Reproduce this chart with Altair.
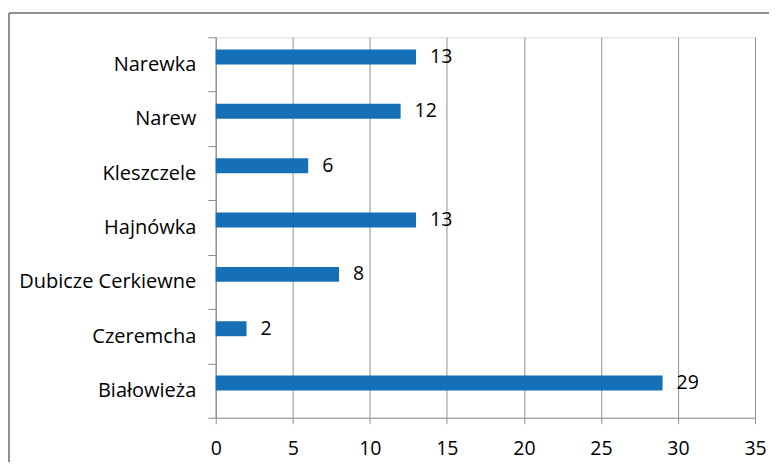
import altair as alt
import pandas as pd

categories = ["Narewka", "Narew", "Kleszczele", "Hajnówka", "Dubicze Cerkiewne", "Czeremcha", "Białowieża"]
values = [13, 12, 6, 13, 8, 2, 29]
x_ticks = [0, 5, 10, 15, 20, 25, 30, 35]

df = pd.DataFrame({"gmina": categories, "value": values})

FONT = "Open Sans"
GRAY = "#8f8f8f"
BAR = "#1570b8"

y_enc = alt.Y("gmina:N", sort=categories, title=None,
              scale=alt.Scale(paddingInner=0, paddingOuter=0),
              axis=alt.Axis(labelFont=FONT, labelFontSize=20, labelColor="#000000",
                            labelPadding=12, tickSize=8, tickColor=GRAY, tickBand="extent",
                            domainColor=GRAY, grid=False, labelAlign="right"))
x_enc = alt.X("value:Q", title=None,
              scale=alt.Scale(domain=[0, 35], nice=False),
              axis=alt.Axis(values=x_ticks, labelFont=FONT, labelFontSize=19.5, labelColor="#000000",
                            labelPadding=16, tickSize=6, tickColor=GRAY, domainColor=GRAY,
                            grid=True, gridColor=GRAY, gridWidth=1, labelFlush=False))

bars = alt.Chart(df).mark_bar(color=BAR, size=15, yOffset=-7.5).encode(x=x_enc, y=y_enc)
labels = alt.Chart(df).mark_text(align="left", baseline="middle", dx=14, yOffset=-7.5,
                                 font=FONT, fontSize=19.5, color="#000000").encode(
    x="value:Q", y=alt.Y("gmina:N", sort=categories), text="value:Q")

frame_left = alt.Chart(df).mark_rule(color=GRAY, strokeWidth=1.5).encode(
    x=alt.value(-207), y=alt.value(-24), y2=alt.value(600))
frame_top = alt.Chart(df).mark_rule(color=GRAY, strokeWidth=1.5).encode(
    x=alt.value(-207), x2=alt.value(900), y=alt.value(-24))

chart = alt.layer(bars, labels, frame_left, frame_top).properties(
    width=540, height=381,
    autosize=alt.AutoSizeParams(type="none"),
    padding={"left": 208, "top": 29, "right": 14, "bottom": 44},
).configure_view(stroke=None).configure(background="#ffffff")

chart.save("out.html", embed_options={"renderer": "svg", "actions": False})
